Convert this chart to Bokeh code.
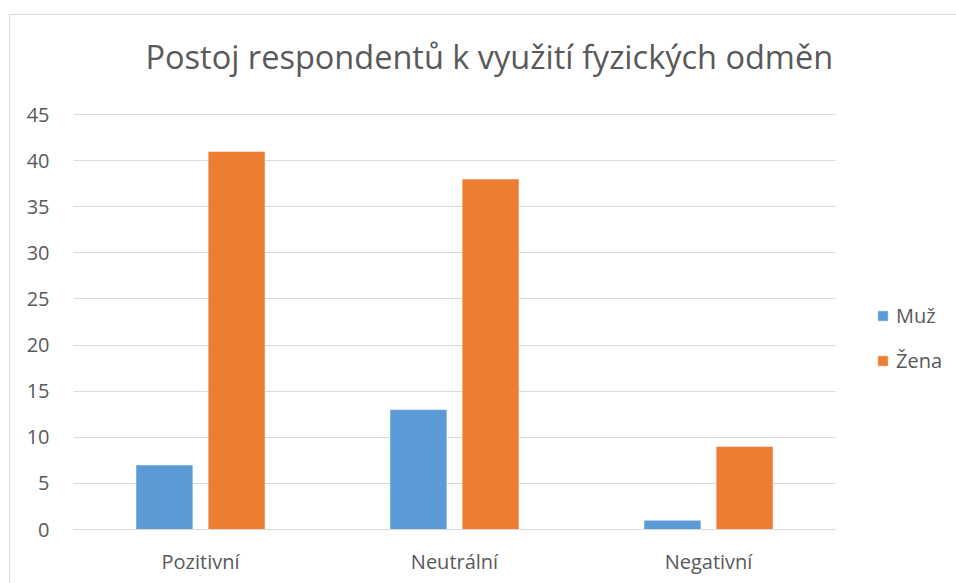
from bokeh.plotting import figure
from bokeh.models import ColumnDataSource, FactorRange, Range1d, FixedTicker, Legend, LegendItem
from bokeh.transform import dodge
from bokeh.embed import file_html
from bokeh.resources import INLINE

categories = ["Pozitivní", "Neutrální", "Negativní"]
muz = [7, 13, 1]
zena = [41, 38, 9]
series_names = ["Muž", "Žena"]
y_ticks = [0, 5, 10, 15, 20, 25, 30, 35, 40, 45]

FONT = "Open Sans"
TXT = "#595959"
GRID = "#d9d9d9"

src = ColumnDataSource(dict(cat=categories, muz=muz, zena=zena))

p = figure(x_range=FactorRange(*categories), y_range=Range1d(0, 47.17),
           frame_width=762, frame_height=435, output_backend="svg", toolbar_location=None,
           min_border_left=63, min_border_right=120, min_border_top=0, min_border_bottom=55)
p.margin = (14, 0, 0, 9)
p.styles = {"border-left": "1px solid #d9d9d9", "border-top": "1px solid #d9d9d9"}

r1 = p.vbar(x=dodge("cat", -0.142, range=p.x_range), top="muz", width=0.224, source=src,
            fill_color="#5b9bd5", line_color="white", line_width=0.5)
r2 = p.vbar(x=dodge("cat", 0.142, range=p.x_range), top="zena", width=0.224, source=src,
            fill_color="#ed7d31", line_color="white", line_width=0.5)

p.title.text = "Postoj respondentů k využití fyzických odměn"
p.title.text_font = FONT
p.title.text_font_size = "32.5px"
p.title.text_font_style = "normal"
p.title.text_color = TXT
p.title.align = "left"
p.title.offset = 72
p.title.standoff = 32

p.outline_line_color = None
p.xgrid.grid_line_color = None
p.ygrid.grid_line_color = GRID
p.ygrid.grid_line_width = 1

p.yaxis.ticker = FixedTicker(ticks=y_ticks)
p.yaxis.axis_line_color = None
p.yaxis.major_tick_line_color = None
p.yaxis.minor_tick_line_color = None
p.yaxis.major_label_standoff = 18
p.yaxis.major_label_text_font = FONT
p.yaxis.major_label_text_font_size = "20px"
p.yaxis.major_label_text_color = TXT

p.xaxis.axis_line_color = GRID
p.xaxis.major_tick_line_color = None
p.xaxis.minor_tick_line_color = None
p.xaxis.major_label_standoff = 12
p.xaxis.major_label_text_font = FONT
p.xaxis.major_label_text_font_size = "20px"
p.xaxis.major_label_text_color = TXT

legend = Legend(items=[LegendItem(label=series_names[0], renderers=[r1]),
                       LegendItem(label=series_names[1], renderers=[r2])],
                location=(41, 155), orientation="vertical")
legend.border_line_color = None
legend.background_fill_alpha = 0
legend.padding = 0
legend.margin = 0
legend.glyph_width = 13
legend.glyph_height = 13
legend.label_height = 27
legend.spacing = 18
legend.label_standoff = 7
legend.label_text_font = FONT
legend.label_text_font_size = "20px"
legend.label_text_color = TXT
p.add_layout(legend, "right")

open("out.html", "w").write(file_html(p, INLINE))
